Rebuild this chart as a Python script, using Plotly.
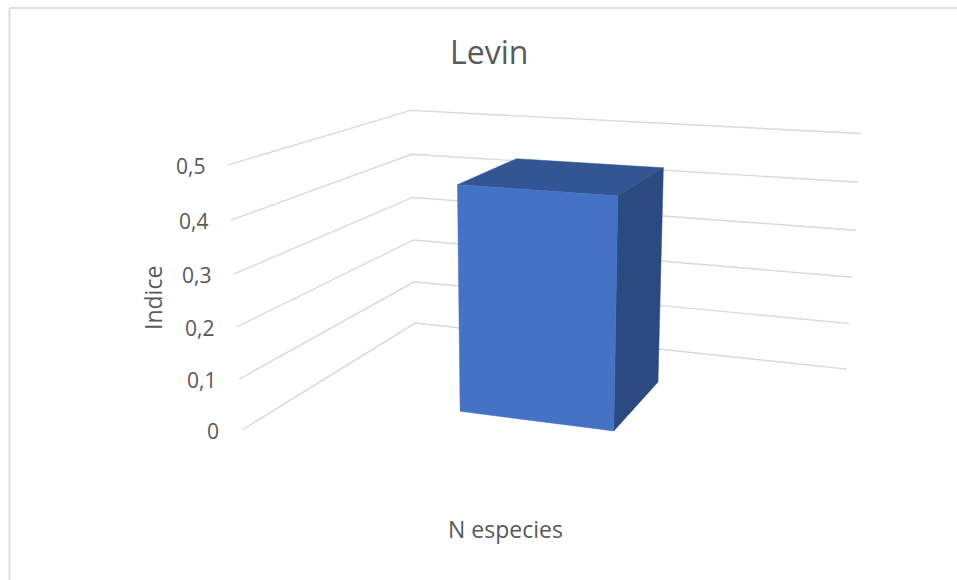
import plotly.graph_objects as go

# Chart values
levels = [0, 0.1, 0.2, 0.3, 0.4, 0.5]
tick_labels = ["0", "0,1", "0,2", "0,3", "0,4", "0,5"]
category = "N especies"
indice = [0.445]

# Bar footprint on the floor: x runs along the back wall, y from front to back
BAR_X = (0.34, 0.65)
BAR_Y = (0.31, 0.71)

# Homogeneous projection from chart space (x, y, z) to page pixels
ORIGIN = (242.0, 430.0)
VANISH_X, WEIGHT_X = (-3433.0, -87.0), -0.127
VANISH_Y, WEIGHT_Y = (1085.0, -91.0), 0.2582
VANISH_Z, WEIGHT_Z = (523.0, 5762.0), -0.0947

FONT = "Open Sans"
TEXT_COLOR = "#595959"
GRID_COLOR = "#d9d9d9"
FRONT_COLOR, TOP_COLOR, SIDE_COLOR = "#4472c4", "#335593", "#2a4a80"


def project(x, y, z):
    w = 1 + WEIGHT_X * x + WEIGHT_Y * y + WEIGHT_Z * z
    px = ORIGIN[0] + WEIGHT_X * x * VANISH_X[0] + WEIGHT_Y * y * VANISH_Y[0] + WEIGHT_Z * z * VANISH_Z[0]
    py = ORIGIN[1] + WEIGHT_X * x * VANISH_X[1] + WEIGHT_Y * y * VANISH_Y[1] + WEIGHT_Z * z * VANISH_Z[1]
    return px / w, py / w


def path(points):
    xy = [project(*p) for p in points]
    return [p[0] for p in xy], [p[1] for p in xy]


fig = go.Figure()

# Gridlines run along the side wall, then along the back wall
for lv in levels:
    xs, ys = path([(0, 0, lv), (0, 1, lv), (1, 1, lv)])
    fig.add_trace(go.Scatter(x=xs, y=ys, mode="lines", line=dict(color=GRID_COLOR, width=1.4),
                             hoverinfo="skip", showlegend=False))


def add_face(points, color):
    xs, ys = path(points + points[:1])
    fig.add_trace(go.Scatter(x=xs, y=ys, mode="lines", fill="toself", fillcolor=color,
                             line=dict(color=color, width=0.5), hoverinfo="skip", showlegend=False))


(x0, x1), (y0, y1), v = BAR_X, BAR_Y, indice[0]
add_face([(x0, y0, v), (x1, y0, v), (x1, y1, v), (x0, y1, v)], TOP_COLOR)
add_face([(x1, y0, 0), (x1, y1, 0), (x1, y1, v), (x1, y0, v)], SIDE_COLOR)
add_face([(x0, y0, 0), (x1, y0, 0), (x1, y0, v), (x0, y0, v)], FRONT_COLOR)

# Value labels right-aligned just before each gridline starts
annotations = []
for lv, label in zip(levels, tick_labels):
    px, py = project(0, 0, lv)
    annotations.append(dict(x=px, y=py, xref="x", yref="y", text=label, showarrow=False,
                            xanchor="right", yanchor="middle", xshift=-21, yshift=-1,
                            font=dict(family=FONT, size=21, color=TEXT_COLOR)))

annotations += [
    dict(x=489, y=51, xref="x", yref="y", text="Levin", showarrow=False,
         font=dict(family=FONT, size=32, color=TEXT_COLOR)),
    dict(x=153, y=298, xref="x", yref="y", text="Indice", textangle=-90, showarrow=False,
         font=dict(family=FONT, size=23, color=TEXT_COLOR)),
    dict(x=505.5, y=529, xref="x", yref="y", text=category, showarrow=False,
         font=dict(family=FONT, size=23, color=TEXT_COLOR)),
]

# Chart frame: only the top and left edges fall inside the page
frame = dict(color="#dedede", width=2)
shapes = [
    dict(type="line", xref="x", yref="y", x0=9.5, x1=957, y0=8, y1=8, line=frame),
    dict(type="line", xref="x", yref="y", x0=9.5, x1=9.5, y0=8, y1=580, line=frame),
]

hidden = dict(visible=False, showgrid=False, zeroline=False, fixedrange=True)
fig.update_layout(
    width=957, height=580, margin=dict(l=0, r=0, t=0, b=0),
    paper_bgcolor="white", plot_bgcolor="white", showlegend=False,
    xaxis=dict(range=[0, 957], **hidden),
    yaxis=dict(range=[580, 0], **hidden),
    annotations=annotations, shapes=shapes,
)
fig.write_html("out.html")
